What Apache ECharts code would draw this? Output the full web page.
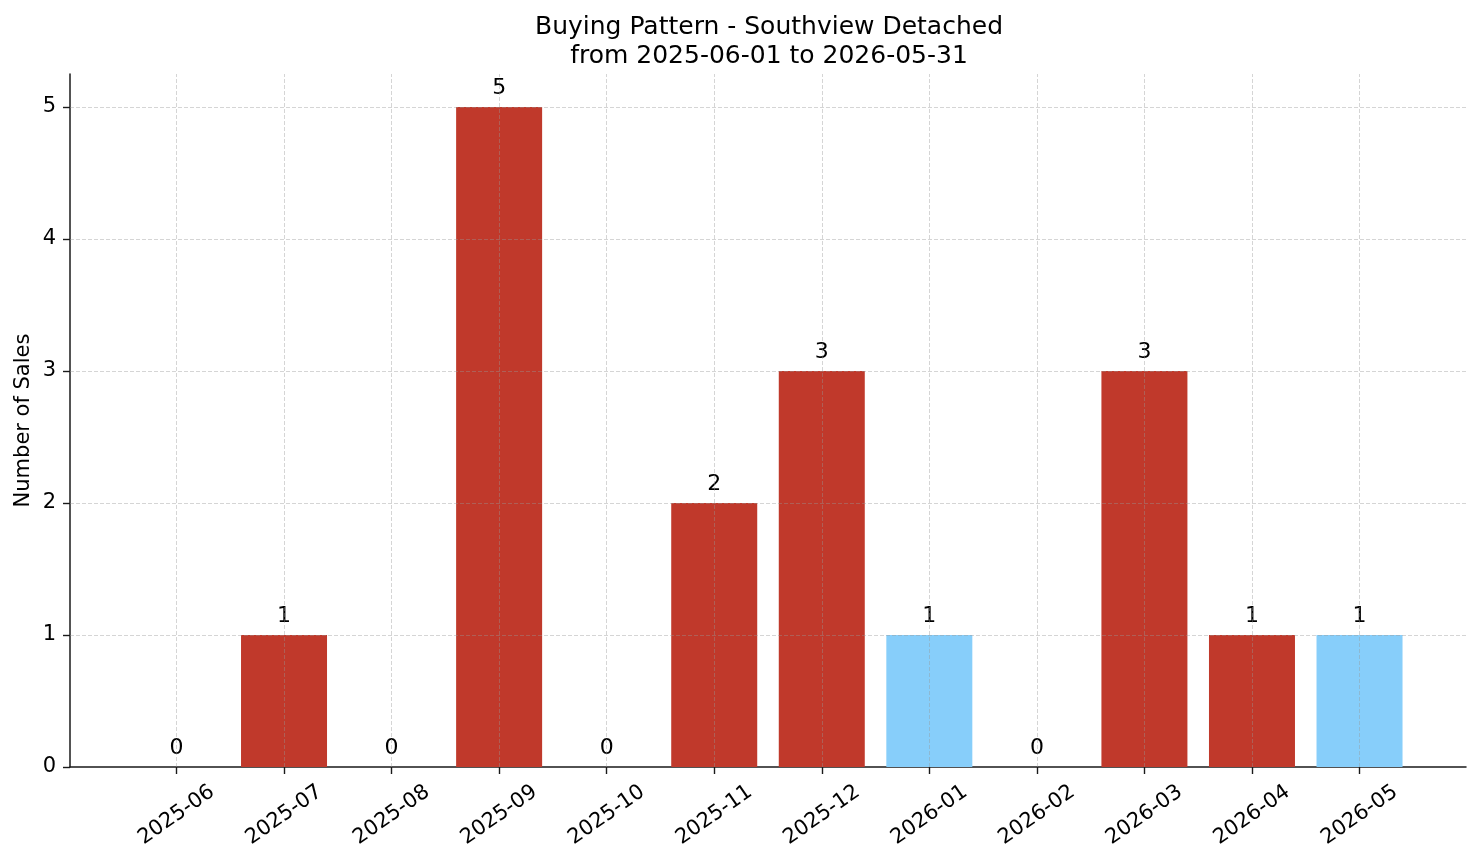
<!DOCTYPE html>
<html>
<head>
<meta charset="utf-8">
<script src="https://cdn.jsdelivr.net/npm/echarts@6/dist/echarts.min.js"></script>
<style>
  html, body { margin: 0; padding: 0; background: #fff; }
  #chart { width: 1481px; height: 863px; }
</style>
</head>
<body>
<div id="chart"></div>
<script>
// months on the x axis
var months = ['2025-06','2025-07','2025-08','2025-09','2025-10','2025-11',
              '2025-12','2026-01','2026-02','2026-03','2026-04','2026-05'];
// number of sales per month
var sales = [0, 1, 0, 5, 0, 2, 3, 1, 0, 3, 1, 1];
// months drawn in the second (light blue) colour
var highlightMonths = ['2026-01', '2026-05'];
// y tick labels
var yTicks = [0, 1, 2, 3, 4, 5];

var RED = '#c0392b';
var BLUE = '#87cefa';
var FONT = 'DejaVu Sans';

var chart = echarts.init(document.getElementById('chart'));

var barData = [];
for (var i = 0; i < months.length; i++) {
  barData.push({
    value: [i, sales[i]],
    itemStyle: { color: highlightMonths.indexOf(months[i]) >= 0 ? BLUE : RED }
  });
}
var xIdx = months.map(function (m, i) { return i; });

// grid lines drawn over the bars, like matplotlib does
var gridLines = [];
xIdx.forEach(function (i) { gridLines.push({ xAxis: i }); });
yTicks.slice(1).forEach(function (v) { gridLines.push({ yAxis: v }); });

var option = {
  animation: false,
  backgroundColor: '#fff',
  textStyle: { fontFamily: FONT },
  title: {
    text: 'Buying Pattern - Southview Detached\nfrom 2025-06-01 to 2026-05-31',
    left: 764,
    top: 8,
    textAlign: 'center',
    textStyle: { fontFamily: FONT, fontSize: 25, fontWeight: 'normal', color: '#000', lineHeight: 29 }
  },
  grid: { left: 70, right: 15, top: 74, bottom: 96 },
  xAxis: {
    type: 'value',
    min: -0.99,
    max: 11.99,
    splitLine: { show: false },
    axisLine: { show: true, onZero: false, lineStyle: { color: '#1a1a1a', width: 1.5 } },
    axisTick: { show: true, length: 7, customValues: xIdx, lineStyle: { color: '#1a1a1a', width: 1.4 } },
    axisLabel: {
      customValues: xIdx,
      rotate: 35,
      align: 'center',
      verticalAlign: 'middle',
      margin: 48,
      fontSize: 21,
      color: '#000',
      fontFamily: FONT,
      formatter: function (v) { return months[Math.round(v)]; }
    }
  },
  yAxis: {
    type: 'value',
    min: 0,
    max: 5.25,
    name: 'Number of Sales',
    nameLocation: 'middle',
    nameGap: 36,
    nameMoveOverlap: false,
    nameTextStyle: { fontSize: 21, color: '#000', fontFamily: FONT },
    splitLine: { show: false },
    axisLine: { show: true, onZero: false, lineStyle: { color: '#1a1a1a', width: 1.5 } },
    axisTick: { show: true, length: 7, customValues: yTicks, lineStyle: { color: '#1a1a1a', width: 1.4 } },
    axisLabel: { customValues: yTicks, fontSize: 21, color: '#000', margin: 14, fontFamily: FONT }
  },
  series: [{
    type: 'bar',
    barWidth: 86,
    data: barData,
    label: {
      show: true,
      position: 'top',
      distance: 8,
      fontSize: 22,
      color: '#000',
      fontFamily: FONT,
      formatter: function (p) { return p.value[1]; }
    },
    markLine: {
      silent: true,
      symbol: 'none',
      label: { show: false },
      lineStyle: { color: 'rgba(150,150,150,0.45)', type: [4, 2], width: 0.9 },
      data: gridLines
    }
  }]
};

chart.setOption(option);
</script>
</body>
</html>
